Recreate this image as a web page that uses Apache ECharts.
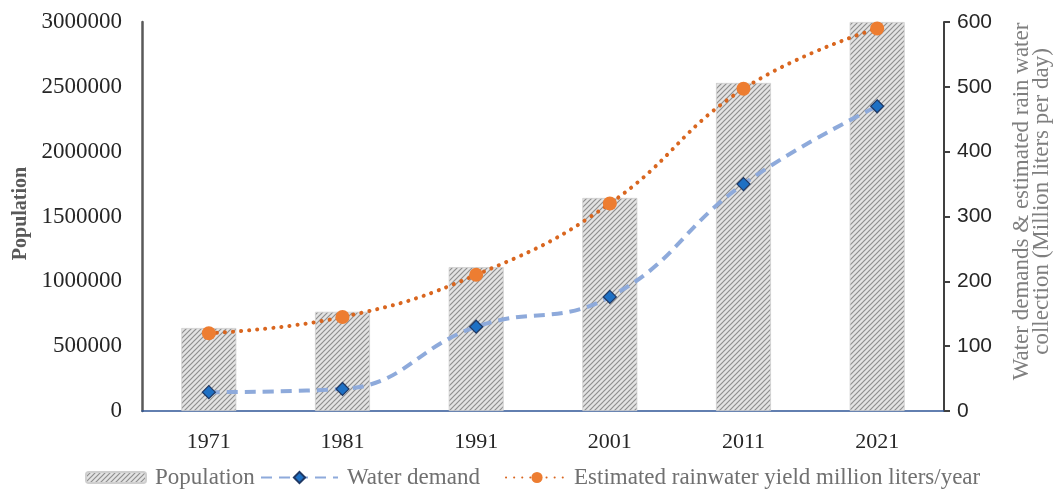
<!DOCTYPE html>
<html>
<head>
<meta charset="utf-8">
<script src="https://cdn.jsdelivr.net/npm/echarts@6/dist/echarts.min.js"></script>
<style>
html,body{margin:0;padding:0;background:#fff;}
#c{width:1060px;height:490px;}
</style>
</head>
<body>
<div id="c"></div>
<script>
const categories = ['1971', '1981', '1991', '2001', '2011', '2021'];
const population = [640000, 765000, 1110000, 1643000, 2530000, 3000000];
const waterDemand = [29, 34, 130, 176, 350, 470];
const rainwaterYield = [120, 145, 210, 320, 497, 590];
const popAxisMax = 3000000, popAxisStep = 500000;
const rightAxisMax = 600, rightAxisStep = 100;

const seriesNames = ['Population', 'Water demand', 'Estimated rainwater yield million liters/year'];

function hatch() {
  const s = 5;
  const cv = document.createElement('canvas');
  cv.width = s; cv.height = s;
  const ctx = cv.getContext('2d');
  ctx.fillStyle = '#e3e3e3';
  ctx.fillRect(0, 0, s, s);
  ctx.strokeStyle = '#8f8f8f';
  ctx.lineWidth = 1.2;
  ctx.beginPath();
  ctx.moveTo(0, s); ctx.lineTo(s, 0);
  ctx.moveTo(-1, 1); ctx.lineTo(1, -1);
  ctx.moveTo(s - 1, s + 1); ctx.lineTo(s + 1, s - 1);
  ctx.stroke();
  return cv;
}

const serif = 'Liberation Serif';
const chart = echarts.init(document.getElementById('c'), null, {renderer: 'canvas'});
const legendText = {fontFamily: serif, fontSize: 23, color: '#707070', padding: [0, 0, 0, 4]};

chart.setOption({
  animation: false,
  backgroundColor: '#fff',
  grid: {left: 142, right: 116, top: 22, bottom: 79, containLabel: false, outerBoundsMode: 'none'},
  legend: [
    {data: [seriesNames[0]], left: 80, top: 461, itemWidth: 60, itemHeight: 11, textStyle: legendText},
    {data: [seriesNames[1]], left: 255, top: 461, itemWidth: 77, itemHeight: 14, textStyle: legendText},
    {data: [seriesNames[2]], left: 500, top: 461, itemWidth: 62, itemHeight: 14, textStyle: Object.assign({}, legendText, {padding: [0, 0, 0, 1]})}
  ],
  xAxis: {
    type: 'category',
    data: categories,
    axisLine: {lineStyle: {color: '#2f5597', width: 1.5}},
    axisTick: {show: false},
    axisLabel: {fontFamily: serif, fontSize: 22, color: '#262626', margin: 20}
  },
  yAxis: [
    {
      type: 'value', min: 0, max: popAxisMax, interval: popAxisStep,
      name: 'Population', nameLocation: 'middle', nameGap: 110,
      nameTextStyle: {fontFamily: serif, fontSize: 20, fontWeight: 'bold', color: '#595959', padding: [0, 0, 0, 6]},
      axisLine: {show: true, lineStyle: {color: '#595959', width: 2.5}},
      axisTick: {show: false},
      splitLine: {show: false},
      axisLabel: {fontFamily: serif, fontSize: 23, color: '#262626', margin: 20, formatter: v => String(v)}
    },
    {
      type: 'value', min: 0, max: rightAxisMax, interval: rightAxisStep,
      name: 'Water demands & estimated rain water\ncollection (Million liters per day)',
      nameLocation: 'middle', nameGap: 68, nameRotate: 90,
      nameTextStyle: {fontFamily: serif, fontSize: 23, color: '#7f7f7f', lineHeight: 20, align: 'center', padding: [0, 0, 0, 30]},
      axisLine: {show: true, lineStyle: {color: '#404040', width: 2}},
      axisTick: {show: true, length: 6, lineStyle: {color: '#404040', width: 2}},
      splitLine: {show: false},
      axisLabel: {fontFamily: 'Liberation Sans', fontSize: 21, color: '#262626', margin: 13}
    }
  ],
  series: [
    {
      name: seriesNames[0], type: 'bar', yAxisIndex: 0, data: population,
      barWidth: 55,
      itemStyle: {color: {image: hatch(), repeat: 'repeat'}, borderColor: '#cfcfcf', borderWidth: 0.8}
    },
    {
      name: seriesNames[1], type: 'line', yAxisIndex: 1, data: waterDemand,
      smooth: 0.45,
      symbol: 'diamond', symbolSize: 13,
      lineStyle: {color: '#8eaadb', width: 4, type: [11, 7]},
      itemStyle: {color: '#1e70c4', borderColor: '#1f3864', borderWidth: 1.2}
    },
    {
      name: seriesNames[2], type: 'line', yAxisIndex: 1, data: rainwaterYield,
      smooth: 0.45,
      symbol: 'circle', symbolSize: 14,
      lineStyle: {color: '#d9661f', width: 4, type: [0.1, 8], cap: 'round'},
      itemStyle: {color: '#ed7d31', borderWidth: 0}
    }
  ]
});
</script>
</body>
</html>
